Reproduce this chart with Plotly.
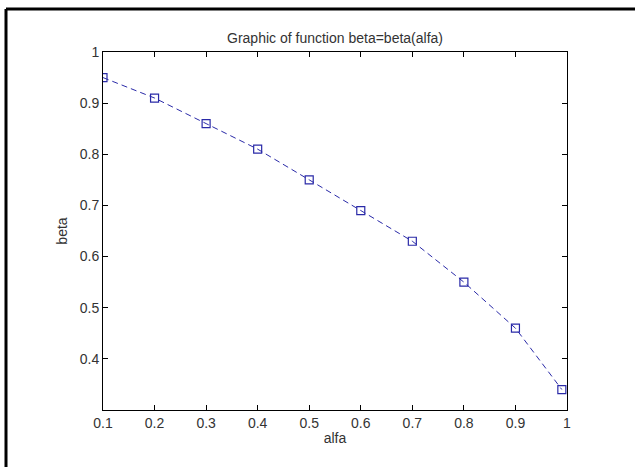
import plotly.graph_objects as go

# alfa values and the computed beta at each
alfa = [0.1, 0.2, 0.3, 0.4, 0.5, 0.6, 0.7, 0.8, 0.9, 0.99]
beta = [0.95, 0.91, 0.86, 0.81, 0.75, 0.69, 0.63, 0.55, 0.46, 0.34]

x_ticks = [0.1, 0.2, 0.3, 0.4, 0.5, 0.6, 0.7, 0.8, 0.9, 1.0]
x_tick_text = ["0.1", "0.2", "0.3", "0.4", "0.5", "0.6", "0.7", "0.8", "0.9", "1"]
y_ticks = [0.3, 0.4, 0.5, 0.6, 0.7, 0.8, 0.9, 1.0]
y_tick_text = ["", "0.4", "0.5", "0.6", "0.7", "0.8", "0.9", "1"]

W, H = 635, 467
L, R, T, B = 103, 68, 52, 57
pw, ph = W - L - R, H - T - B

FONT = "Liberation Sans, Arial, Helvetica, sans-serif"
TEXT = "#333333"
LINE_BLUE = "#2a2aa8"

fig = go.Figure()
fig.add_trace(go.Scatter(
    x=alfa, y=beta,
    mode="lines+markers",
    line=dict(color=LINE_BLUE, width=1, dash="6px,4px"),
    marker=dict(symbol="square-open", size=8, color=LINE_BLUE, line=dict(width=1.2, color=LINE_BLUE)),
    showlegend=False,
))

axis_common = dict(
    showline=True, linecolor="black", linewidth=1,
    mirror="allticks", ticks="inside", ticklen=5, tickcolor="black",
    showgrid=False, zeroline=False,
    tickfont=dict(family=FONT, size=14, color=TEXT),
)

fig.update_xaxes(
    range=[0.1, 1.0], tickvals=x_ticks, ticktext=x_tick_text,
    title=dict(text="alfa", font=dict(family=FONT, size=14, color=TEXT), standoff=3),
    **axis_common,
)
fig.update_yaxes(
    range=[0.3, 1.0], tickvals=y_ticks, ticktext=y_tick_text,
    title=dict(text="beta", font=dict(family=FONT, size=14, color=TEXT), standoff=8),
    **axis_common,
)

# window frame: top and left edges of the surrounding border
fx0 = (6 - L) / pw
fy_top = 1 + (T - 9) / ph
fig.add_shape(type="line", xref="paper", yref="paper", x0=fx0, x1=(W + 5 - L) / pw,
              y0=fy_top, y1=fy_top, line=dict(color="black", width=3))
fig.add_shape(type="line", xref="paper", yref="paper", x0=fx0, x1=fx0,
              y0=fy_top, y1=-(B + 5) / ph, line=dict(color="black", width=3))

fig.update_layout(
    width=W, height=H,
    margin=dict(l=L, r=R, t=T, b=B),
    paper_bgcolor="white", plot_bgcolor="white",
    title=dict(text="Graphic of function beta=beta(alfa)", x=0.5, xref="paper",
               y=1 - 38 / H, yanchor="middle",
               font=dict(family=FONT, size=14, color=TEXT)),
)

fig.write_html("out.html")
